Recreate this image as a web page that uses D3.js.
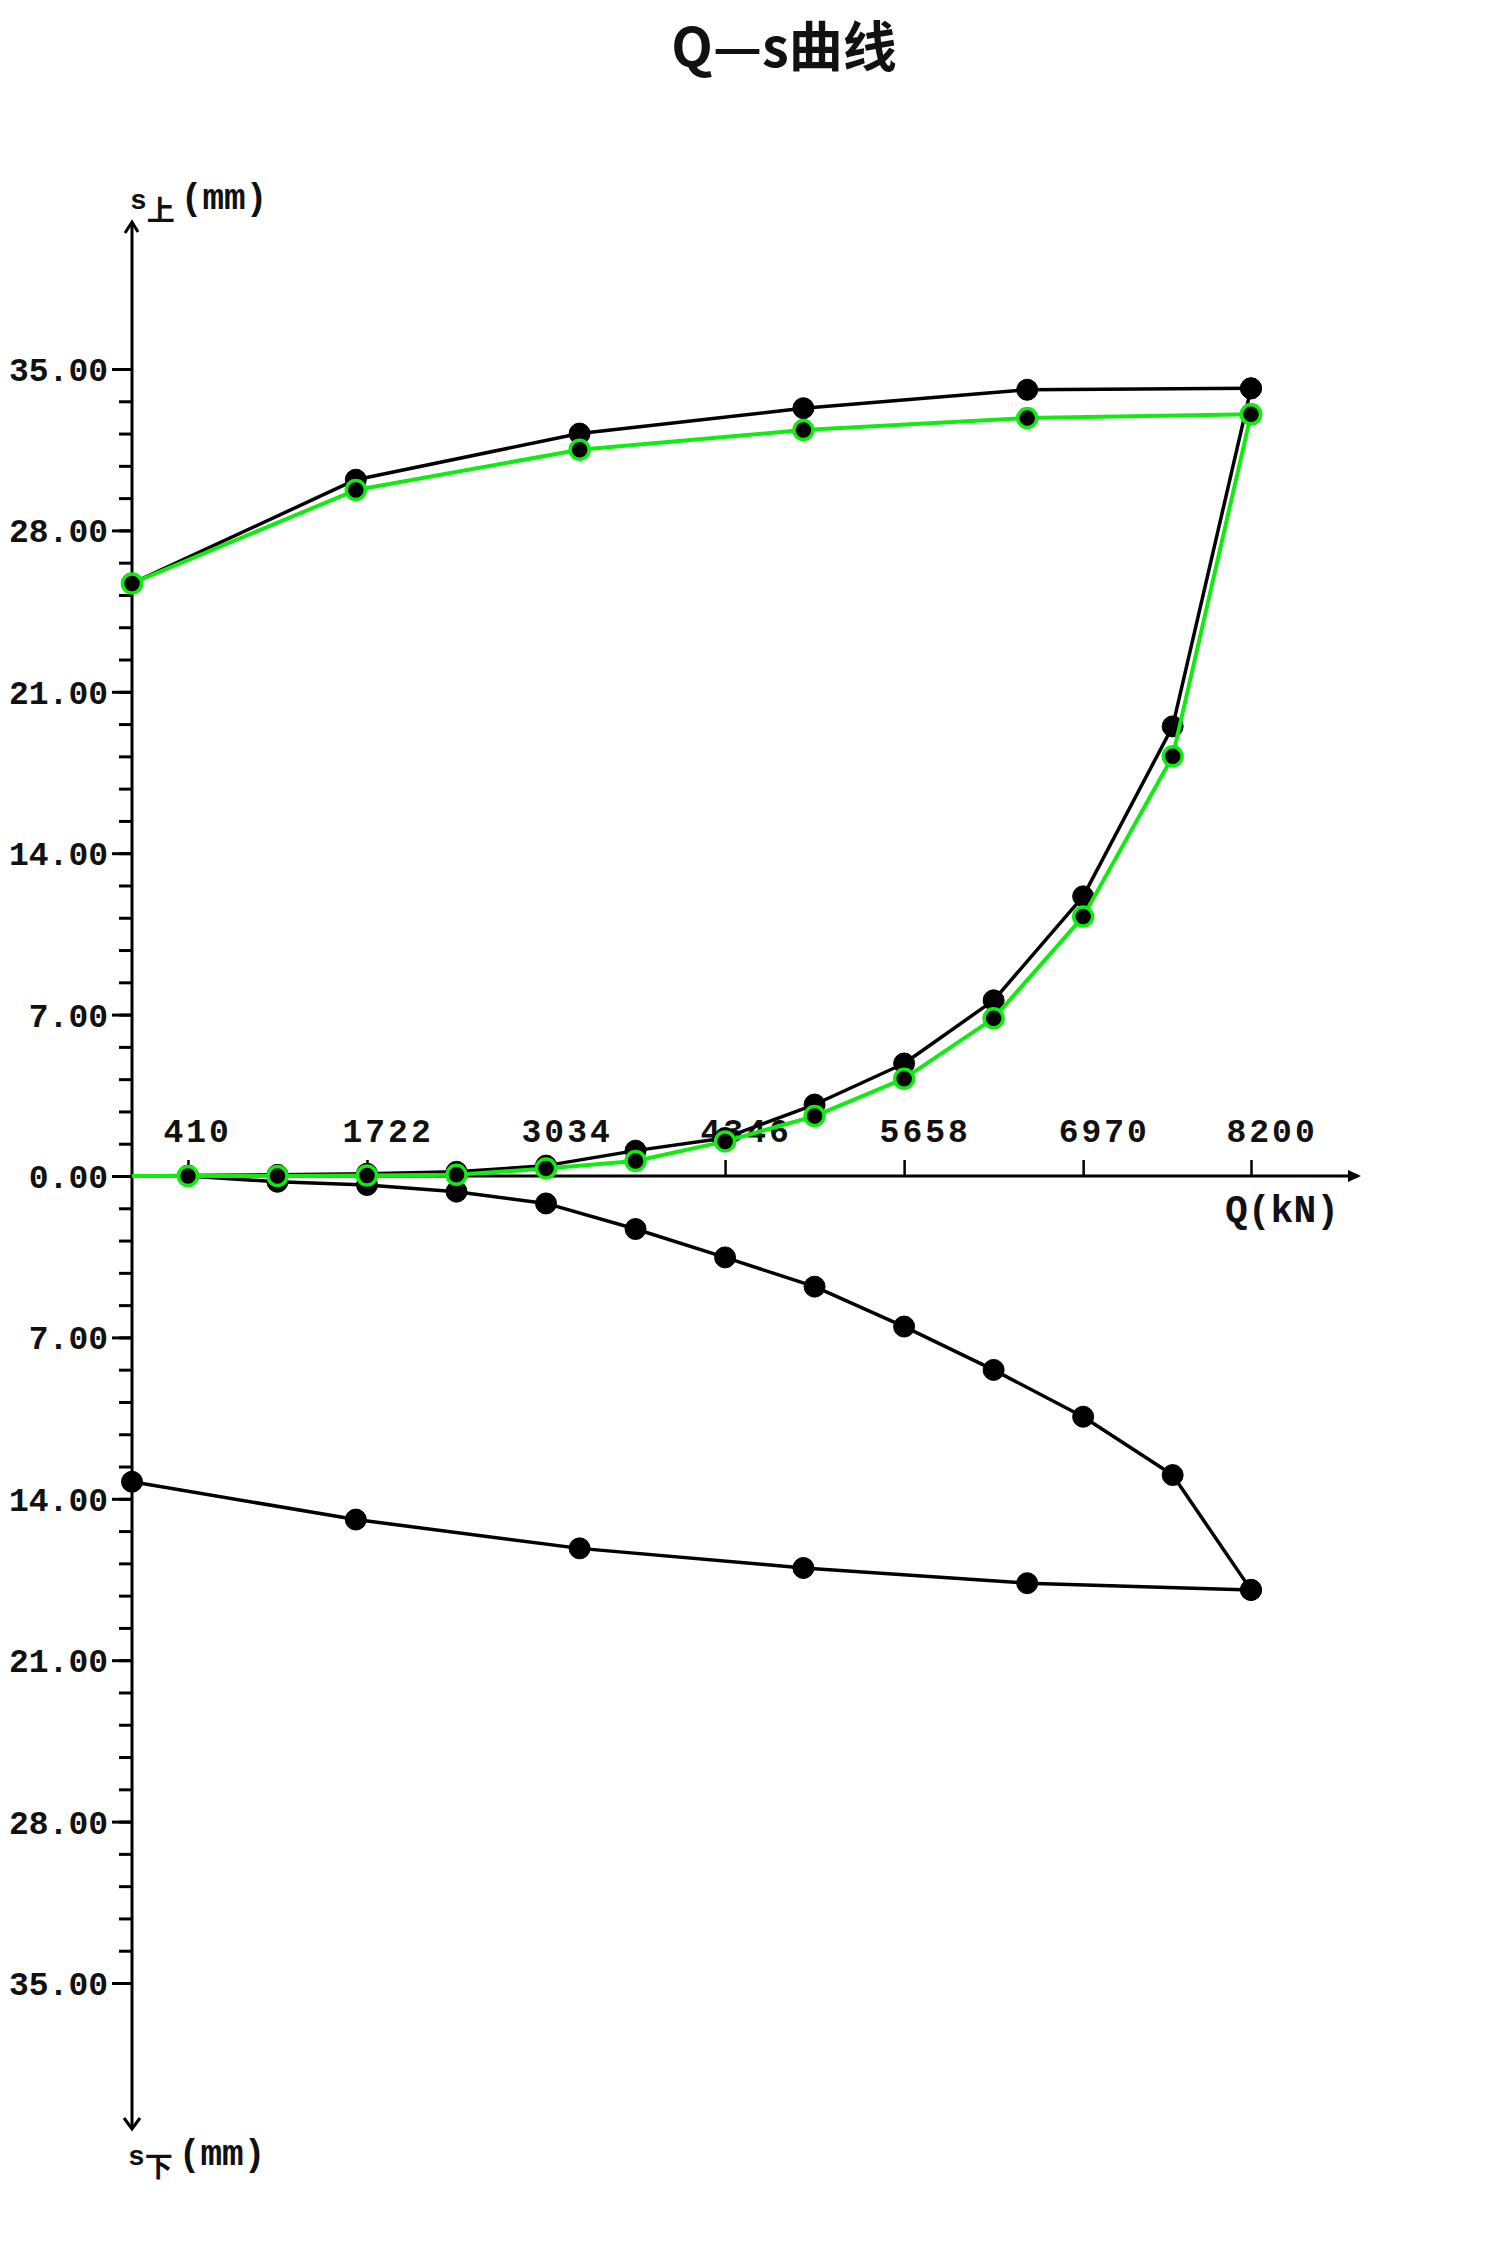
<!DOCTYPE html>
<html>
<head>
<meta charset="utf-8">
<script src="https://cdn.jsdelivr.net/npm/d3@7/dist/d3.min.js"></script>
<style>
  html, body { margin: 0; padding: 0; background: #fff; }
  svg { display: block; }
</style>
</head>
<body>
<svg id="chart" width="1500" height="2254"></svg>
<script>
// ---- data ----
const loadQ = [0, 410, 1066, 1722, 2378, 3034, 3690, 4346, 5002, 5658, 6314, 6970, 7626, 8200];
const upperLoadBlack = [0, 0.02, 0.05, 0.1, 0.18, 0.45, 1.1, 1.65, 3.1, 4.88, 7.62, 12.13, 19.5, 34.16];
const upperLoadGreen = [0, 0, 0, 0.02, 0.05, 0.33, 0.65, 1.5, 2.6, 4.22, 6.84, 11.25, 18.2, 33.04];
const lowerLoad = [0, 0, 0.25, 0.39, 0.68, 1.19, 2.3, 3.53, 4.8, 6.53, 8.41, 10.44, 12.97, 17.95];

const unloadQ = [8200, 6560, 4920, 3280, 1640, 0];
const upperUnloadBlack = [34.16, 34.1, 33.3, 32.2, 30.2, 25.7];
const upperUnloadGreen = [33.04, 32.87, 32.35, 31.5, 29.75, 25.7];
const lowerUnload = [17.95, 17.66, 17.0, 16.15, 14.9, 13.26];

const xTickValues = [410, 1722, 3034, 4346, 5658, 6970, 8200];
const yMajorTicks = [0, 7, 14, 21, 28, 35];
const titleText = "Q—s曲线";

// ---- layout ----
const svg = d3.select("#chart");
const x0 = 132, y0 = 1176;
const x = d3.scaleLinear().domain([0, 8200]).range([x0, 1251]);
const yUp = d3.scaleLinear().domain([0, 35]).range([y0, 369]);
const yDown = d3.scaleLinear().domain([0, 35]).range([y0, 1983]);

const monoFont = "'Liberation Mono', 'DejaVu Sans Mono', monospace";
const green = "#10ec10";

// title
svg.append("text")
  .attr("x", 784).attr("y", 67)
  .attr("text-anchor", "middle")
  .attr("font-family", "'Noto Sans CJK SC', sans-serif")
  .attr("font-weight", "bold")
  .attr("font-size", 54)
  .attr("fill", "#111")
  .text(titleText);

// ---- y axes ----
const minorTicks = d3.range(0, 36, 1.4).filter(v => v <= 35.01);

function yAxisGroup(scale, showZero) {
  const gMinor = svg.append("g").attr("transform", `translate(${x0},0)`)
    .call(d3.axisLeft(scale).tickValues(minorTicks).tickSize(13).tickFormat(""));
  gMinor.select(".domain").remove();
  gMinor.selectAll(".tick line").attr("stroke", "#000").attr("stroke-width", 3);

  const gMajor = svg.append("g").attr("transform", `translate(${x0},0)`)
    .call(d3.axisLeft(scale).tickValues(yMajorTicks.filter(v => showZero || v > 0))
      .tickSize(20).tickPadding(4).tickFormat(d => d3.format(".2f")(d)));
  gMajor.select(".domain").remove();
  gMajor.selectAll(".tick line").attr("stroke", "#000").attr("stroke-width", 3);
  gMajor.selectAll(".tick text")
    .attr("font-family", monoFont)
    .attr("font-weight", "bold")
    .attr("font-size", 33)
    .attr("fill", "#111")
    .attr("dy", "0.35em");
}
yAxisGroup(yUp, true);
yAxisGroup(yDown, false);

// vertical axis line with arrows
svg.append("line").attr("x1", x0).attr("x2", x0).attr("y1", 223).attr("y2", 2128)
  .attr("stroke", "#000").attr("stroke-width", 3);
svg.append("path").attr("d", `M${x0 - 7},${233} L${x0},${222} L${x0 + 6},${232}`)
  .attr("fill", "none").attr("stroke", "#000").attr("stroke-width", 3);
svg.append("path").attr("d", `M${x0 - 8},${2118} L${x0},${2129} L${x0 + 8},${2118}`)
  .attr("fill", "none").attr("stroke", "#000").attr("stroke-width", 3);

// ---- x axis ----
const gx = svg.append("g").attr("transform", `translate(0,${y0})`)
  .call(d3.axisTop(x).tickValues(xTickValues).tickSize(16).tickPadding(18).tickFormat(d3.format("d")));
gx.select(".domain").remove();
gx.selectAll(".tick line").attr("stroke", "#000").attr("stroke-width", 2.5);
gx.selectAll(".tick text")
  .attr("font-family", monoFont)
  .attr("font-weight", "bold")
  .attr("font-size", 33)
  .attr("letter-spacing", 3)
  .attr("fill", "#111")
  .attr("text-anchor", "start")
  .attr("x", -25)
  .attr("y", -34)
  .attr("dy", "0");

svg.append("line").attr("x1", x0).attr("x2", 1358).attr("y1", y0).attr("y2", y0)
  .attr("stroke", "#000").attr("stroke-width", 3);
svg.append("path").attr("d", `M1348,${y0 - 6} L1361,${y0} L1348,${y0 + 6} Z`)
  .attr("fill", "#000");

// axis titles
svg.append("text").attr("x", 1225).attr("y", 1222)
  .attr("font-family", monoFont).attr("font-weight", "bold").attr("font-size", 38)
  .attr("fill", "#111").text("Q(kN)");

function axisTitle(xp, yp, sub) {
  const t = svg.append("text").attr("x", xp).attr("y", yp)
    .attr("font-family", monoFont).attr("font-weight", "bold").attr("font-size", 36).attr("fill", "#111");
  t.append("tspan").attr("font-size", 28).text("s");
  t.append("tspan").attr("dy", 12).attr("font-family", "'Noto Sans CJK SC', sans-serif")
    .attr("font-size", 28).text(sub);
  t.append("tspan").attr("dy", -12).attr("dx", 6).text("(mm)");
}
axisTitle(130, 209, "上");
axisTitle(128, 2165, "下");

// ---- series ----
function series(qs, vals) { return qs.map((q, i) => ({ q, v: vals[i] })); }
const line = scale => d3.line().x(d => x(d.q)).y(d => scale(d.v));

function drawSeries(data, scale, color, width) {
  svg.append("path").datum(data)
    .attr("d", line(scale))
    .attr("fill", "none").attr("stroke", color).attr("stroke-width", width)
    .attr("stroke-linejoin", "round");
}
function drawMarkers(data, scale, fill, stroke, sw, r) {
  svg.append("g").selectAll("circle").data(data).join("circle")
    .attr("cx", d => x(d.q)).attr("cy", d => scale(d.v)).attr("r", r)
    .attr("fill", fill).attr("stroke", stroke).attr("stroke-width", sw);
}

const lowL = series(loadQ, lowerLoad);
const lowU = series(unloadQ, lowerUnload);
const upBL = series(loadQ, upperLoadBlack);
const upBU = series(unloadQ, upperUnloadBlack);
const upGL = series(loadQ, upperLoadGreen);
const upGU = series(unloadQ, upperUnloadGreen);

// black series
drawSeries(lowL, yDown, "#000", 3.5);
drawSeries(lowU, yDown, "#000", 3.5);
drawSeries(upBL, yUp, "#000", 3.5);
drawSeries(upBU, yUp, "#000", 3.5);
drawMarkers(lowL.filter(d => d.q > 0), yDown, "#000", "#000", 1, 10.5);
drawMarkers(lowU, yDown, "#000", "#000", 1, 10.5);
drawMarkers(upBL.filter(d => d.q > 0), yUp, "#000", "#000", 1, 10.5);
drawMarkers(upBU, yUp, "#000", "#000", 1, 10.5);

// green series
drawSeries(upGL, yUp, green, 4);
drawSeries(upGU, yUp, green, 4);
drawMarkers(upGL.filter(d => d.q > 0), yUp, "#000", green, 3.5, 9.5);
drawMarkers(upGU, yUp, "#000", green, 3.5, 9.5);
</script>
</body>
</html>
